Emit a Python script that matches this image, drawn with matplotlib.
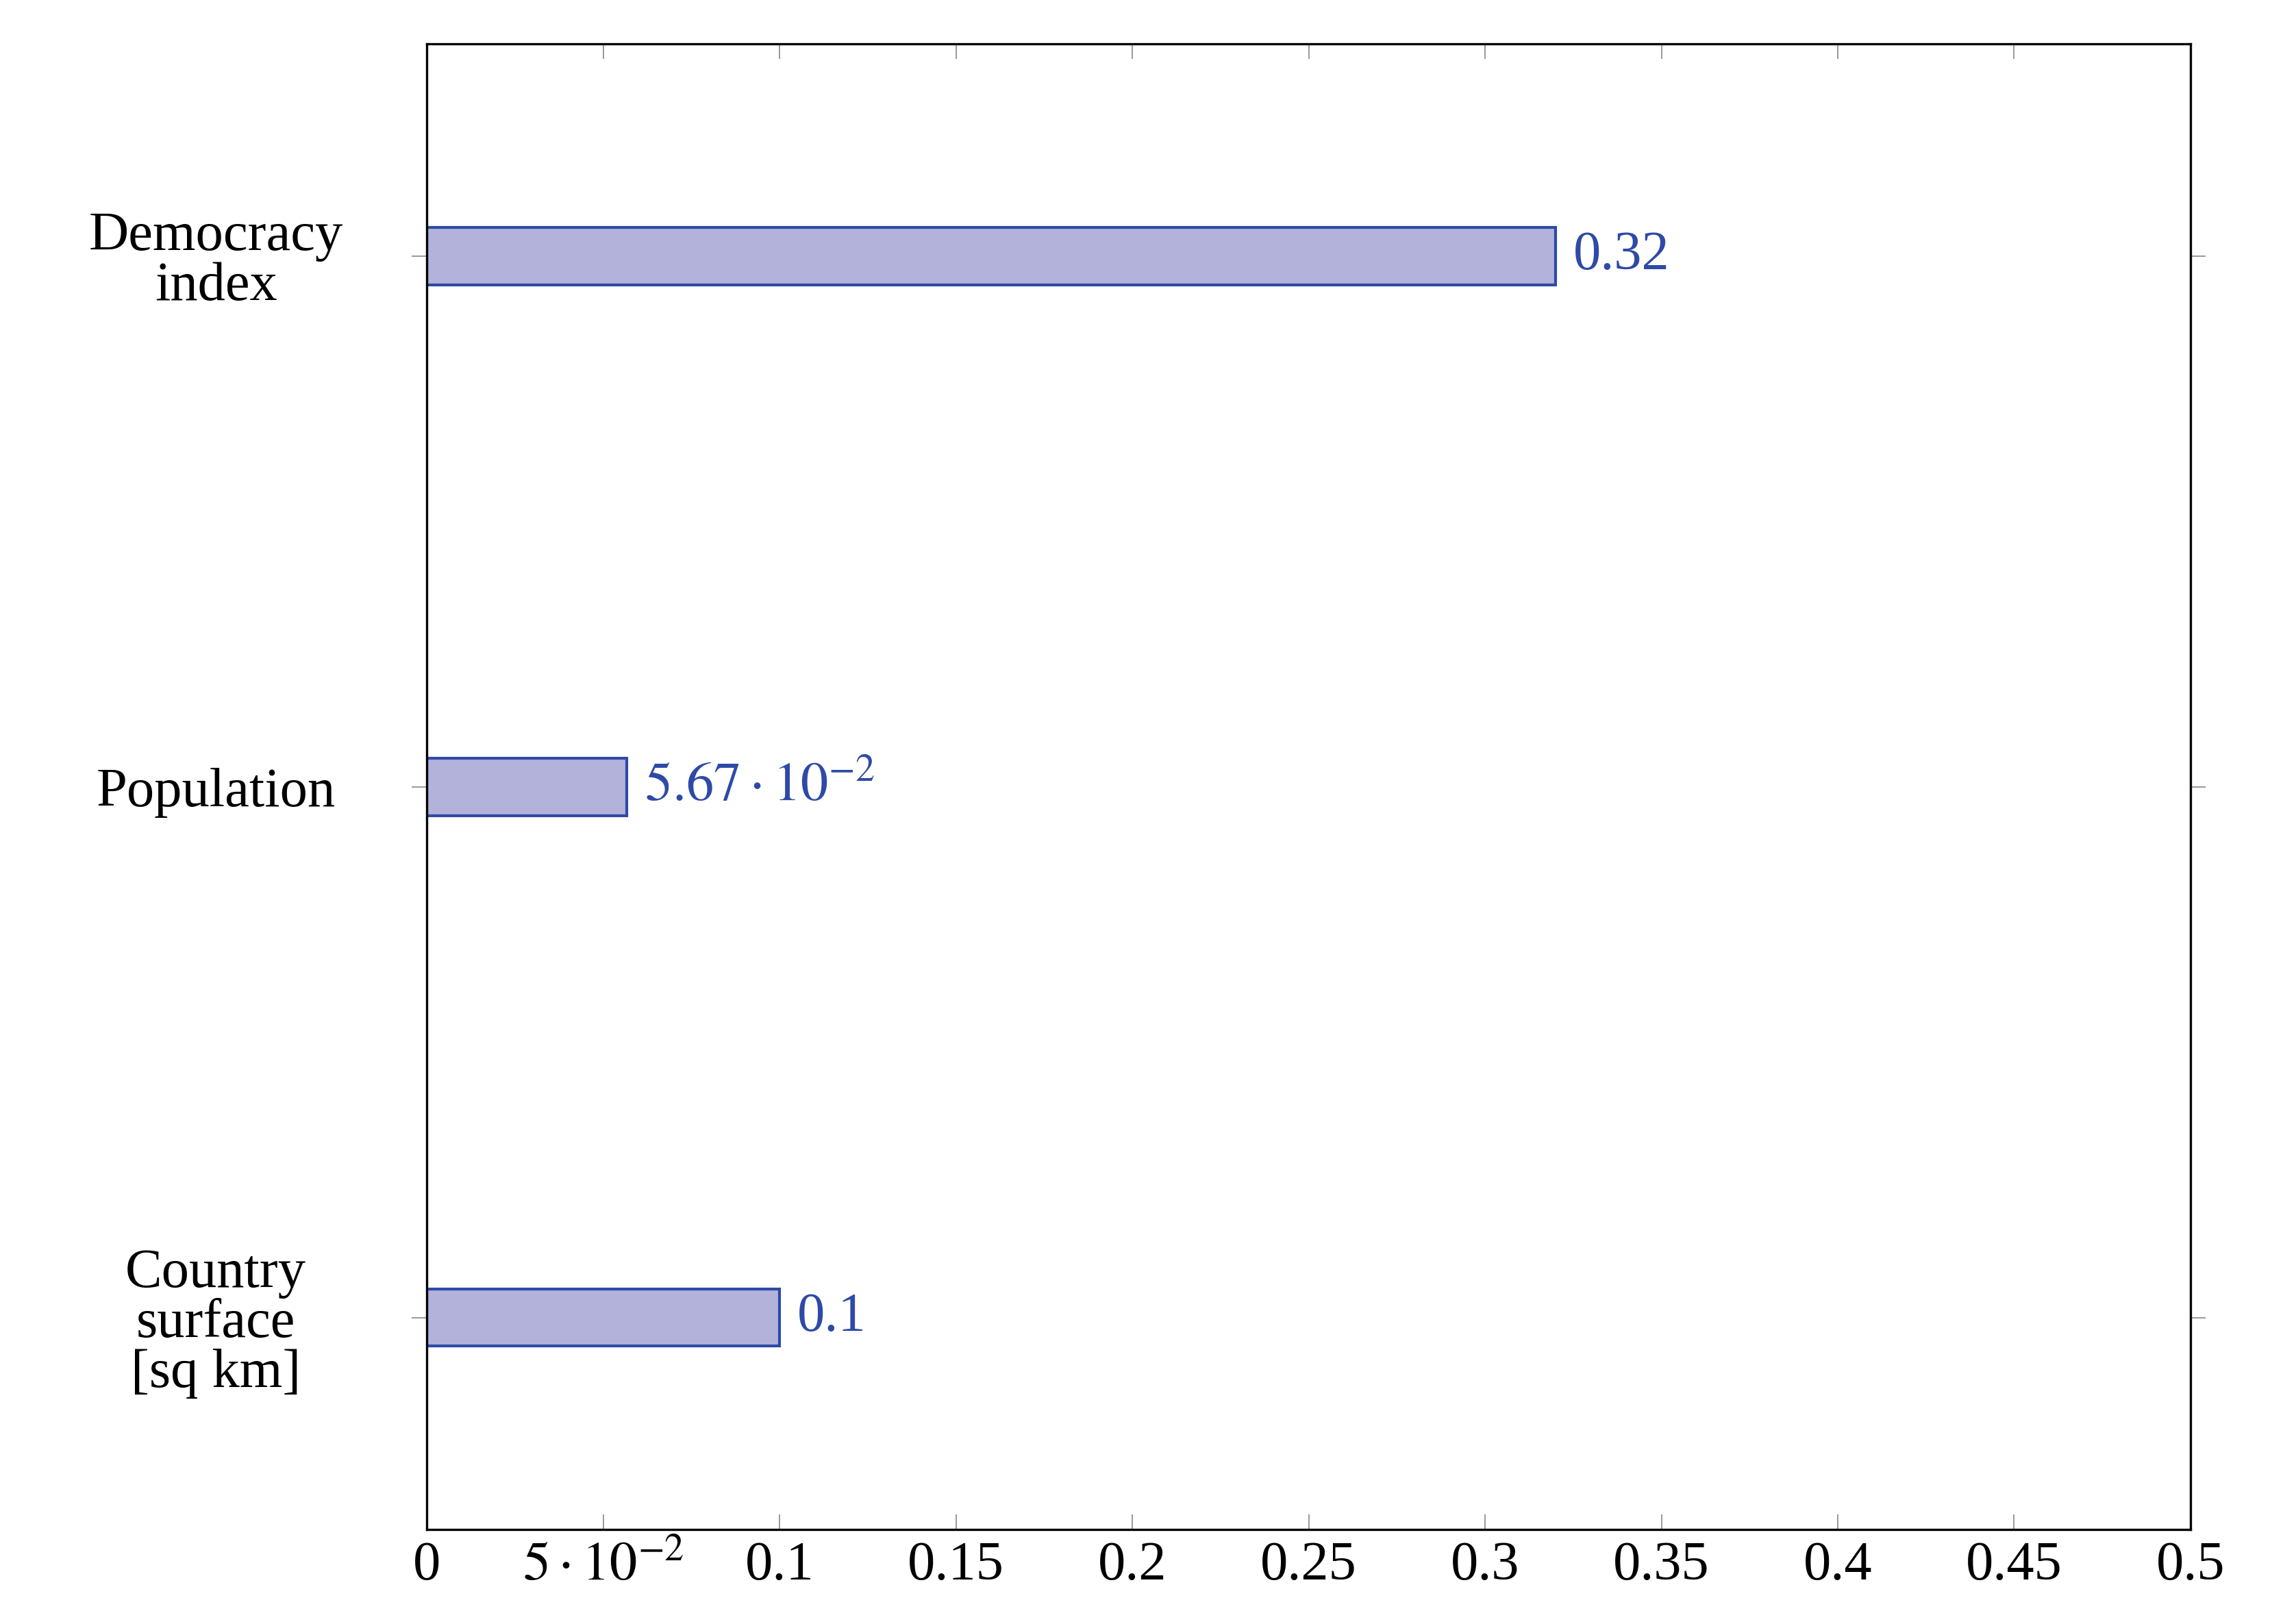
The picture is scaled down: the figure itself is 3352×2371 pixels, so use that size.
import matplotlib.pyplot as plt

categories = ["Country\nsurface\n[sq km]", "Population", "Democracy\nindex"]
values = [0.1, 0.0567, 0.32]
value_labels = ["0.1", r"$5.67\cdot10^{-2}$", "0.32"]
xticks = [0, 0.05, 0.1, 0.15, 0.2, 0.25, 0.3, 0.35, 0.4, 0.45, 0.5]
xtick_labels = ["0", r"$5\cdot10^{-2}$", "0.1", "0.15", "0.2", "0.25", "0.3",
                "0.35", "0.4", "0.45", "0.5"]

plt.rcParams['font.family'] = ['Liberation Serif', 'DejaVu Serif']
plt.rcParams['mathtext.fontset'] = 'stix'

fig = plt.figure(figsize=(16.76, 11.855), dpi=200)
ax = fig.add_axes([0.186, 0.058, 0.768, 0.915])

fill = '#b2b2da'
edge = '#2e4aa6'
fs = 29
ypos = list(range(len(categories)))
ax.barh(ypos, values, height=0.108, color=fill, edgecolor=edge, linewidth=1.5)
for y, v, lab in zip(ypos, values, value_labels):
    ax.text(v + 0.005, y, lab, color=edge, fontsize=fs, va='center', ha='left')

ax.set_xlim(0, 0.5)
ax.set_ylim(-0.4, 2.4)
ax.set_yticks(ypos)
ax.set_yticklabels(categories, fontsize=fs, ha='center', linespacing=1.0)
ax.tick_params(axis='y', pad=103, direction='out', length=8, width=0.6,
               color='#888888', right=True)
ax.set_xticks(xticks)
ax.set_xticklabels(xtick_labels, fontsize=fs)
ax.tick_params(axis='x', direction='in', length=8, width=0.6,
               color='#888888', top=True, pad=6)
for s in ax.spines.values():
    s.set_linewidth(1.2)

fig.savefig("out.png", dpi=200)
